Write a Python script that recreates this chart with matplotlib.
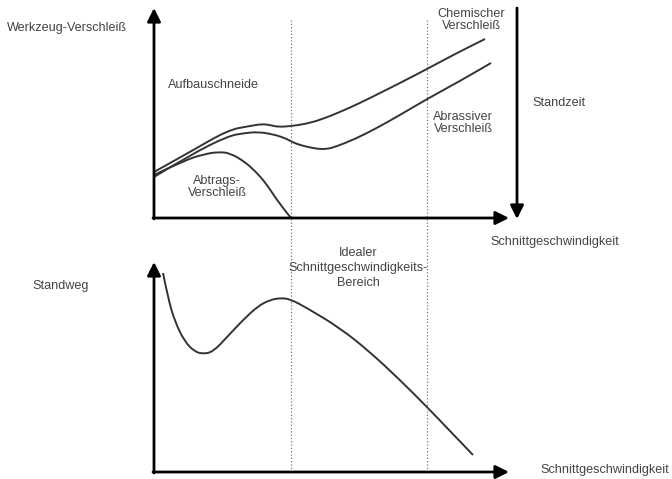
import matplotlib.pyplot as plt
from matplotlib.path import Path
from matplotlib.patches import PathPatch

# curve points (pixel coords, y downward)
chem_x = [154, 190, 228, 250, 262, 270, 278, 292, 305, 320, 340, 360, 380, 400, 427, 455, 485]
chem_y = [172, 152, 130, 126, 124, 125, 127, 126, 124, 120, 112, 103, 93, 83, 69, 54, 39]

abr_x = [154, 190, 228, 245, 258, 272, 285, 292, 300, 308, 318, 327, 335, 355, 375, 400, 427, 460, 491]
abr_y = [177, 155, 136, 133, 132, 134, 138, 142, 145, 147, 149, 149, 147, 139, 129, 115, 99, 81, 63]

abtr_x = [154, 185, 205, 218, 230, 245, 255, 265, 275, 283, 291]
abtr_y = [175, 160, 154, 152, 153, 162, 171, 182, 197, 208, 218]

weg_x = [163, 168, 175, 185, 194, 202, 213, 228, 242, 258, 270, 280, 290, 307, 340, 370, 400, 427, 450, 473]
weg_y = [273, 298, 322, 342, 351, 354, 352, 336, 321, 306, 300, 298, 299, 308, 328, 352, 380, 407, 431, 455]

grey = "#444444"
lc = "#333333"

fig = plt.figure(figsize=(6.72, 4.79), dpi=100)
ax = fig.add_axes([0, 0, 1, 1])
ax.set_xlim(0, 672)
ax.set_ylim(479, 0)
ax.axis("off")

def arrow(x0, y0, x1, y1):
    ax.annotate("", xy=(x1, y1), xytext=(x0, y0),
                arrowprops=dict(arrowstyle="-|>", lw=2, color="black",
                                mutation_scale=20, shrinkA=0, shrinkB=0))

def curve(xs, ys):
    # quadratic bezier through the midpoints, read points as control points
    pts = list(zip(xs, ys))
    verts = [pts[0]]
    codes = [Path.MOVETO]
    for i in range(1, len(pts) - 1):
        mid = ((pts[i][0] + pts[i + 1][0]) / 2, (pts[i][1] + pts[i + 1][1]) / 2)
        verts += [pts[i], mid]
        codes += [Path.CURVE3, Path.CURVE3]
    verts.append(pts[-1])
    codes.append(Path.LINETO)
    ax.add_patch(PathPatch(Path(verts, codes), fill=False, edgecolor=lc, lw=1.4))

# axes
arrow(154, 219, 154, 8)
arrow(153, 218, 509, 218)
arrow(517, 8, 517, 219)
arrow(154, 473, 154, 262)
arrow(153, 472, 509, 472)

# dotted region lines
ax.plot([291, 291], [20, 472], ls=":", lw=0.9, color="#777777")
ax.plot([427, 427], [20, 472], ls=":", lw=0.9, color="#777777")

curve(chem_x, chem_y)
curve(abr_x, abr_y)
curve(abtr_x, abtr_y)
curve(weg_x, weg_y)

fs = 9.1
kw = dict(color=grey, fontsize=fs, family="Liberation Sans", linespacing=1.1)
ax.text(7, 28, "Werkzeug-Verschleiß", ha="left", va="center", **kw)
ax.text(168, 85, "Aufbauschneide", ha="left", va="center", **kw)
ax.text(217, 187, "Abtrags-\nVerschleiß", ha="center", va="center", **kw)
ax.text(471, 20, "Chemischer\nVerschleiß", ha="center", va="center", **kw)
ax.text(532, 103, "Standzeit", ha="left", va="center", **kw)
ax.text(463, 123, "Abrassiver\nVerschleiß", ha="center", va="center", **kw)
ax.text(490, 242, "Schnittgeschwindigkeit", ha="left", va="center", **kw)
ax.text(358, 268, "Idealer\nSchnittgeschwindigkeits-\nBereich", ha="center", va="center",
        color=grey, fontsize=fs, family="Liberation Sans", linespacing=1.3)
ax.text(32, 286, "Standweg", ha="left", va="center", **kw)
ax.text(540, 470, "Schnittgeschwindigkeit", ha="left", va="center", **kw)

fig.savefig("out.png", dpi=100)
